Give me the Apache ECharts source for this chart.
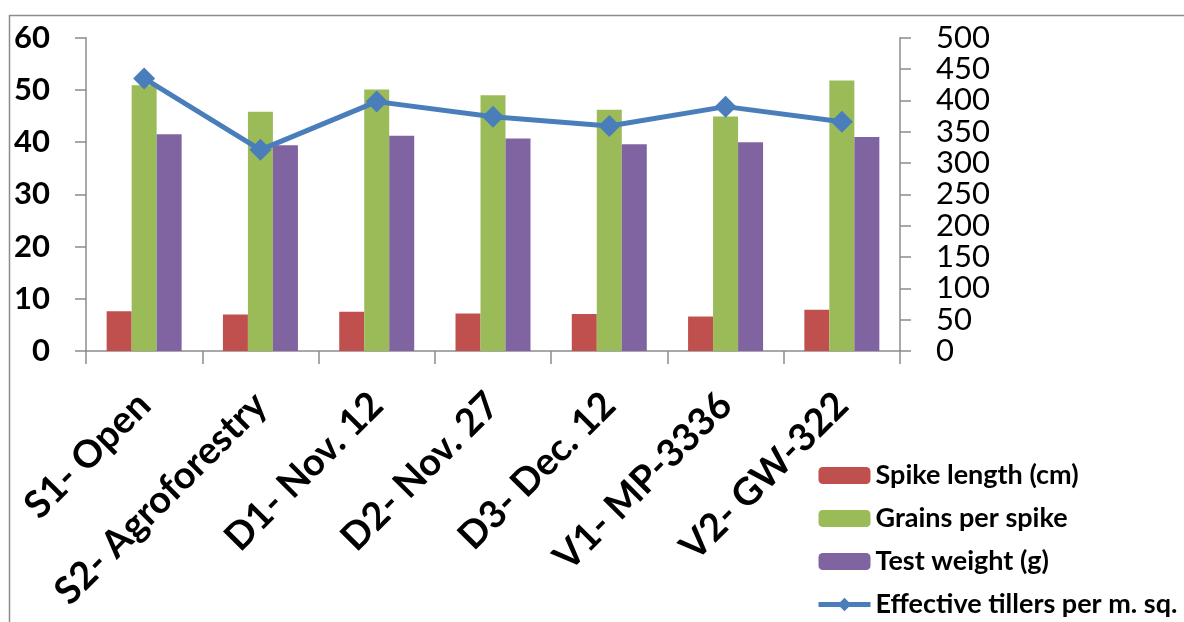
<!DOCTYPE html>
<html><head><meta charset="utf-8">
<script src="https://cdn.jsdelivr.net/npm/echarts@6/dist/echarts.min.js"></script>
<style>html,body{margin:0;padding:0;background:#fff}#c{width:1184px;height:622px}</style>
</head><body><div id="c"></div>
<script>
var categories = ['S1- Open','S2- Agroforestry','D1- Nov. 12','D2- Nov. 27','D3- Dec. 12','V1- MP-3336','V2- GW-322'];
var spikeLength = [7.6, 7.0, 7.5, 7.2, 7.1, 6.6, 7.9];
var grainsPerSpike = [50.9, 45.8, 50.1, 49.0, 46.2, 44.9, 51.8];
var testWeight = [41.5, 39.4, 41.2, 40.7, 39.6, 40.0, 41.0];
var effectiveTillers = [435, 321, 398, 374, 359, 390, 366];
var leftTicks = [0, 60, 10];
var rightTicks = [0, 500, 50];

var chart = echarts.init(document.getElementById('c'));
var font = 'Lato, "Open Sans", sans-serif';
chart.setOption({
  animation: false,
  textStyle: {fontFamily: font},
  graphic: [{type:'rect', shape:{x:9.5,y:15.5,width:1300,height:800}, style:{fill:'none', stroke:'#8c8c8c', lineWidth:1.5}, z:-1}],
  grid: {left: 86, right: 284, top: 37.7, bottom: 271, containLabel: false},
  legend: {
    orient: 'vertical', left: 816, top: 462, padding: 0,
    itemWidth: 52, itemHeight: 17, itemGap: 16,
    textStyle: {fontSize: 27, fontWeight: 'bold', color: '#000', fontFamily: font},
    data: ['Spike length (cm)','Grains per spike','Test weight (g)',
      {name: 'Effective tillers per m. sq.', itemStyle: {color: '#4A7EBB'}, lineStyle: {width: 5, color: '#4A7EBB'}}]
  },
  xAxis: {
    type: 'category', data: categories, boundaryGap: true,
    axisLine: {lineStyle: {color: '#8c8c8c', width: 1.5}},
    axisTick: {show: true, length: 13, lineStyle: {color: '#8c8c8c', width: 1.5}},
    axisLabel: {rotate: 45, interval: 0, margin: 48, fontSize: 38, fontWeight: 'bold', color: '#000', fontFamily: font}
  },
  yAxis: [{
    type: 'value', min: leftTicks[0], max: leftTicks[1], interval: leftTicks[2], position: 'left',
    axisLine: {show: true, lineStyle: {color: '#8c8c8c', width: 1.5}},
    axisTick: {show: true, length: 11, lineStyle: {color: '#8c8c8c', width: 1.5}},
    splitLine: {show: false},
    axisLabel: {fontSize: 31, fontWeight: 'bold', color: '#000', margin: 36, fontFamily: font}
  },{
    type: 'value', min: rightTicks[0], max: rightTicks[1], interval: rightTicks[2], position: 'right',
    axisLine: {show: true, lineStyle: {color: '#8c8c8c', width: 1.5}},
    axisTick: {show: true, length: 11, lineStyle: {color: '#8c8c8c', width: 1.5}},
    splitLine: {show: false},
    axisLabel: {fontSize: 31, color: '#000', margin: 36, fontFamily: font}
  }],
  series: [
    {name: 'Spike length (cm)', type: 'bar', data: spikeLength, barWidth: 25, barGap: '0%', itemStyle: {color: '#C0504D'}},
    {name: 'Grains per spike', type: 'bar', data: grainsPerSpike, barWidth: 25, barGap: '0%', itemStyle: {color: '#9BBB59'}},
    {name: 'Test weight (g)', type: 'bar', data: testWeight, barWidth: 25, barGap: '0%', itemStyle: {color: '#8064A2'}},
    {name: 'Effective tillers per m. sq.', type: 'line', yAxisIndex: 1, data: effectiveTillers,
      symbol: 'diamond', symbolSize: 22, lineStyle: {color: '#4A7EBB', width: 5}, itemStyle: {color: '#4A7EBB'}, z: 5}
  ]
});
</script></body></html>
